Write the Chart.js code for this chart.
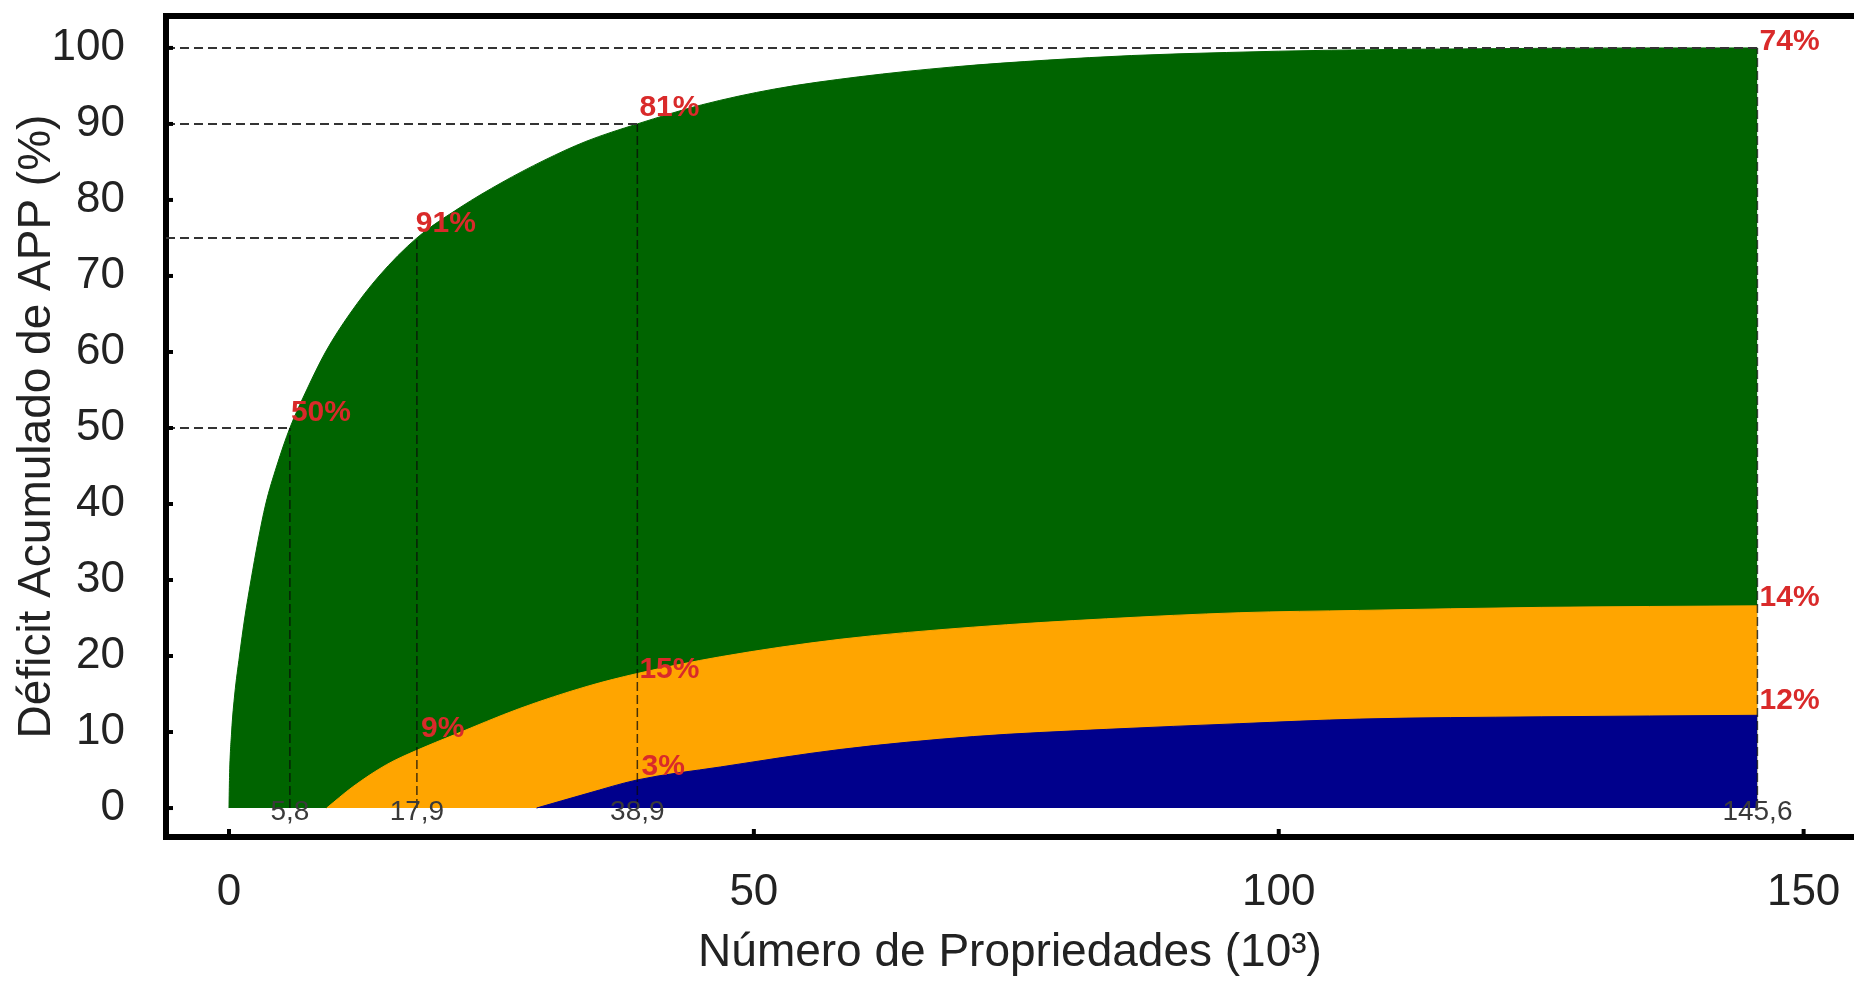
<!DOCTYPE html>
<html>
<head>
<meta charset="utf-8">
<script src="https://cdn.jsdelivr.net/npm/chart.js@4.4.1/dist/chart.umd.min.js"></script>
<style>
  html, body { margin: 0; padding: 0; background: #fff; }
  #chart { display: block; }
</style>
</head>
<body>
<canvas id="chart" width="1854" height="981"></canvas>
<script>
// ─── Data ─────────────────────────────────────────────

const X_MIN = -6.0, X_MAX = 154.8;
const Y_MIN = -3.81, Y_MAX = 104.2;

const xTicks = [0, 50, 100, 150];
const yTicks = [0, 10, 20, 30, 40, 50, 60, 70, 80, 90, 100];

// cumulative deficit curves (x in 10^3 properties, y in %)
const greenX = [0, 0.05, 0.25, 0.55, 1.0, 1.5, 2.1, 2.75, 3.5, 4.55, 5.8, 7.4, 9.2, 11.5, 14.3, 17.9, 22, 26, 30, 34, 38.9, 45, 52, 60, 69, 78, 86, 95, 105, 120, 135, 145.6];
const greenY = [0, 4, 10, 15, 20, 25, 30, 35, 40, 45, 50, 55, 60, 65, 70, 75, 79.0, 82.3, 85.2, 87.7, 90, 92.5, 94.6, 96.2, 97.5, 98.4, 99.0, 99.4, 99.7, 99.9, 100, 100];

const orangeX = [9.3, 11.8, 15.0, 17.9, 21.4, 27.7, 34.1, 38.9, 46.8, 58.2, 70.9, 83.6, 96.3, 107.7, 125, 145.6];
const orangeY = [0, 2.8, 5.7, 7.6, 9.6, 13.1, 16.0, 17.7, 19.9, 22.2, 23.8, 24.9, 25.7, 26.0, 26.4, 26.6];

const blueX = [29.3, 34.1, 38.9, 46.8, 58.2, 70.9, 83.6, 96.3, 107.7, 125, 145.6];
const blueY = [0, 1.9, 3.7, 5.4, 7.7, 9.4, 10.35, 11.1, 11.7, 12.0, 12.2];

// reference marks
const markX = [5.8, 17.9, 38.9, 145.6];
const markY = [50, 75, 90, 100];
const markText = ['5,8', '17,9', '38,9', '145,6'];
const markTextY = -0.6;

// red share labels (left / baseline anchored)
const pctText = ['50%', '91%', '81%', '74%', '9%', '15%', '14%', '3%', '12%'];
const pctX = [5.9, 17.8, 39.1, 145.8, 18.3, 39.1, 145.8, 39.3, 145.8];
const pctY = [50.9, 75.8, 91.0, 99.7, 9.4, 17.1, 26.6, 4.3, 13.0];

// ─── Helpers ──────────────────────────────────────────

const FONT = "'Liberation Sans', Arial, sans-serif";
const zip = (xs, ys) => xs.map((x, i) => ({ x, y: ys[i] }));

function areaSet(xs, ys, color, order) {
    return {
        data: zip(xs, ys),
        borderColor: color,
        backgroundColor: color,
        borderWidth: 1,
        pointRadius: 0,
        fill: 'origin',
        cubicInterpolationMode: 'monotone',
        order,
    };
}

function guideSet(points, dash, color, width) {
    return {
        data: points,
        borderColor: color,
        borderWidth: width,
        borderDash: dash,
        pointRadius: 0,
        fill: false,
        order: 0,
    };
}

const hGuides = markX.map((x, i) =>
    guideSet([{ x: X_MIN, y: markY[i] }, { x, y: markY[i] }], [9, 5], '#333', 2));
const vGuides = markX.map((x, i) =>
    guideSet([{ x, y: 0 }, { x, y: markY[i] }], [9, 4], 'rgba(10,10,10,0.75)', 1.5));

// ─── Decorations plugin ───────────────────────────────

const decorations = {
    id: 'decorations',
    afterDraw(chart) {
        const { ctx, chartArea: a, scales: { x, y } } = chart;
        ctx.save();
        ctx.strokeStyle = '#000';

        // top frame line
        ctx.lineWidth = 6;
        ctx.beginPath();
        ctx.moveTo(a.left - 3, a.top);
        ctx.lineTo(a.right, a.top);
        ctx.stroke();

        // inward tick marks
        ctx.lineWidth = 4;
        yTicks.forEach(v => {
            const py = y.getPixelForValue(v);
            ctx.beginPath();
            ctx.moveTo(a.left, py);
            ctx.lineTo(a.left + 7, py);
            ctx.stroke();
        });
        xTicks.forEach(v => {
            const px = x.getPixelForValue(v);
            ctx.beginPath();
            ctx.moveTo(px, a.bottom);
            ctx.lineTo(px, a.bottom - 8);
            ctx.stroke();
        });

        // value marks under the curves
        ctx.fillStyle = '#3a3a3a';
        ctx.font = `28px ${FONT}`;
        ctx.textAlign = 'center';
        ctx.textBaseline = 'middle';
        markText.forEach((t, i) => {
            ctx.fillText(t, x.getPixelForValue(markX[i]), y.getPixelForValue(markTextY));
        });

        // red share labels
        ctx.fillStyle = '#d92a2a';
        ctx.font = `bold 30px ${FONT}`;
        ctx.textAlign = 'left';
        ctx.textBaseline = 'alphabetic';
        pctText.forEach((t, i) => {
            ctx.fillText(t, x.getPixelForValue(pctX[i]), y.getPixelForValue(pctY[i]));
        });
        ctx.restore();
    },
};

// ─── Chart ────────────────────────────────────────────

new Chart(document.getElementById('chart').getContext('2d'), {
    type: 'line',
    data: {
        datasets: [
            ...hGuides,
            ...vGuides,
            areaSet(blueX, blueY, '#00008c', 1),
            areaSet(orangeX, orangeY, '#ffa500', 2),
            areaSet(greenX, greenY, '#006400', 3),
        ],
    },
    options: {
        responsive: false,
        devicePixelRatio: 1,
        animation: false,
        layout: { padding: { top: 16, right: 0, bottom: 0, left: 0 } },
        plugins: {
            legend: { display: false },
            tooltip: { enabled: false },
        },
        scales: {
            x: {
                type: 'linear',
                min: X_MIN,
                max: X_MAX,
                grid: { display: false, drawTicks: false },
                border: { display: true, color: '#000', width: 6 },
                afterBuildTicks: s => { s.ticks = xTicks.map(value => ({ value })); },
                afterFit: s => {
                    s.height = 144;
                    s.paddingLeft = 0;
                    s.paddingRight = 0;
                },
                ticks: {
                    color: '#222',
                    padding: 29,
                    maxRotation: 0,
                    font: { family: FONT, size: 44 },
                },
                title: {
                    display: true,
                    text: 'Número de Propriedades (10³)',
                    color: '#222',
                    padding: { top: 0, bottom: 0 },
                    font: { family: FONT, size: 46, lineHeight: 1.2 },
                },
            },
            y: {
                type: 'linear',
                min: Y_MIN,
                max: Y_MAX,
                grid: { display: false, drawTicks: false },
                border: { display: true, color: '#000', width: 6 },
                afterBuildTicks: s => { s.ticks = yTicks.map(value => ({ value })); },
                afterFit: s => {
                    s.width = 166;
                    s.paddingTop = 0;
                    s.paddingBottom = 0;
                },
                ticks: {
                    color: '#222',
                    padding: 41,
                    font: { family: FONT, size: 44 },
                },
                title: {
                    display: true,
                    text: 'Déficit Acumulado de APP (%)',
                    color: '#222',
                    padding: { top: 10, bottom: 0 },
                    font: { family: FONT, size: 46, lineHeight: 1.2 },
                },
            },
        },
    },
    plugins: [decorations],
});
</script>
</body>
</html>
